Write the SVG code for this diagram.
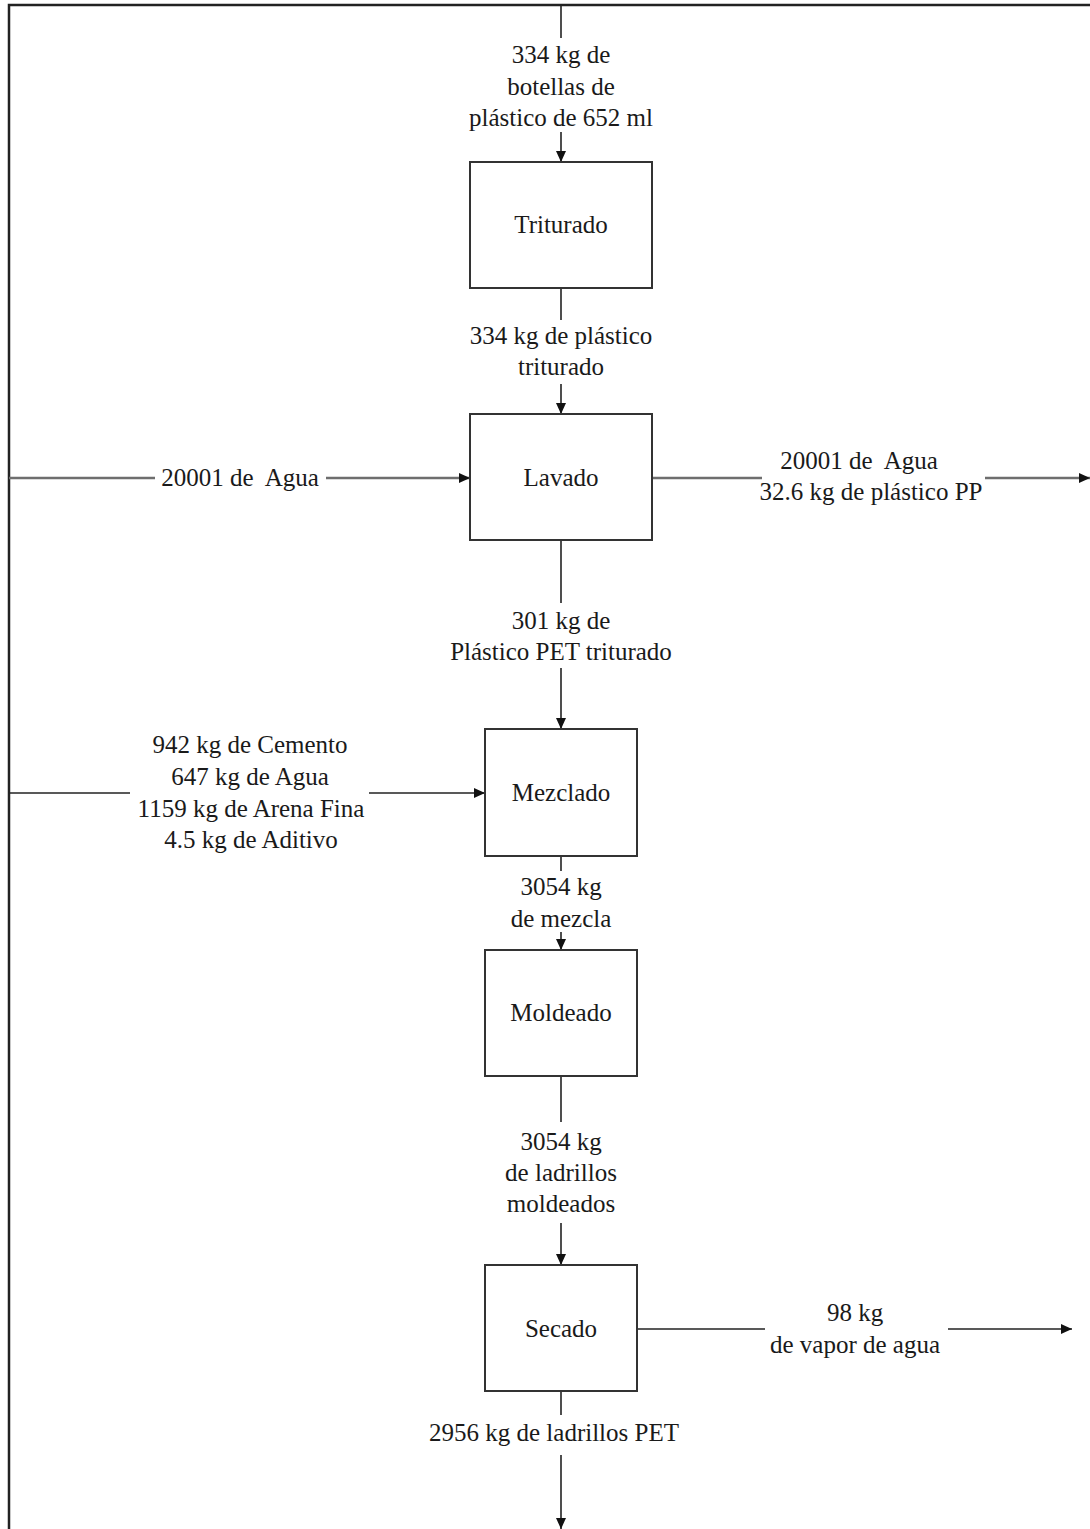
<svg xmlns="http://www.w3.org/2000/svg" width="1090" height="1529" viewBox="0 0 1090 1529">
  <style>
    .box { fill: #ffffff; stroke: #333333; stroke-width: 2; }
    .flow { fill: none; stroke: #222222; stroke-width: 1.6; }
    .flow-h { fill: none; stroke: #6e6e6e; stroke-width: 2.4; }
    .frame { fill: none; stroke: #222222; stroke-width: 2.5; }
    text { font-family: "Liberation Serif", "Times New Roman", serif; font-size: 25px; fill: #1a1a1a; text-anchor: middle; }
  </style>
  <defs>
    <marker id="arrow" markerUnits="userSpaceOnUse" markerWidth="12" markerHeight="10" refX="11" refY="5" orient="auto">
      <path d="M0,0 L11,5 L0,10 z" fill="#111111"/>
    </marker>
  </defs>

  <rect width="1090" height="1529" fill="#ffffff"/>
  <!-- page frame (open to the right and bottom) -->
  <path class="frame" d="M9,1529 V5 H1090"/>

  <g id="connectors">
    <!-- feed of bottles -->
    <path class="flow" d="M561,5 V38"/>
    <path class="flow" d="M561,132 V162" marker-end="url(#arrow)"/>
    <!-- Triturado to Lavado -->
    <path class="flow" d="M561,288 V320"/>
    <path class="flow" d="M561,384 V414" marker-end="url(#arrow)"/>
    <!-- water into Lavado -->
    <path class="flow-h" d="M9,478 H155"/>
    <path class="flow-h" d="M326,478 H470" marker-end="url(#arrow)"/>
    <!-- water and PP out of Lavado -->
    <path class="flow-h" d="M652,478 H762"/>
    <path class="flow-h" d="M985,478 H1090" marker-end="url(#arrow)"/>
    <!-- Lavado to Mezclado -->
    <path class="flow" d="M561,540 V603"/>
    <path class="flow" d="M561,668 V729" marker-end="url(#arrow)"/>
    <!-- raw materials into Mezclado -->
    <path class="flow" d="M9,793 H130"/>
    <path class="flow" d="M369,793 H485" marker-end="url(#arrow)"/>
    <!-- Mezclado to Moldeado -->
    <path class="flow" d="M561,856 V871"/>
    <path class="flow" d="M561,932 V950" marker-end="url(#arrow)"/>
    <!-- Moldeado to Secado -->
    <path class="flow" d="M561,1076 V1122"/>
    <path class="flow" d="M561,1223 V1265" marker-end="url(#arrow)"/>
    <!-- vapour out of Secado -->
    <path class="flow" d="M637,1329 H765"/>
    <path class="flow" d="M948,1329 H1072" marker-end="url(#arrow)"/>
    <!-- finished bricks -->
    <path class="flow" d="M561,1391 V1415"/>
    <path class="flow" d="M561,1455 V1529" marker-end="url(#arrow)"/>
  </g>

  <g id="labels">
    <text x="561" y="63">334 kg de</text>
    <text x="561" y="95">botellas de</text>
    <text x="561" y="126">plástico de 652 ml</text>

    <text x="561" y="344">334 kg de plástico</text>
    <text x="561" y="375">triturado</text>

    <text x="240" y="486" xml:space="preserve">20001 de  Agua</text>

    <text x="859" y="469" xml:space="preserve">20001 de  Agua</text>
    <text x="871" y="500">32.6 kg de plástico PP</text>

    <text x="561" y="629">301 kg de</text>
    <text x="561" y="660">Plástico PET triturado</text>

    <text x="250" y="753">942 kg de Cemento</text>
    <text x="250" y="785">647 kg de Agua</text>
    <text x="251" y="817">1159 kg de Arena Fina</text>
    <text x="251" y="848">4.5 kg de Aditivo</text>

    <text x="561" y="895">3054 kg</text>
    <text x="561" y="927">de mezcla</text>

    <text x="561" y="1150">3054 kg</text>
    <text x="561" y="1181">de ladrillos</text>
    <text x="561" y="1212">moldeados</text>

    <text x="855" y="1321">98 kg</text>
    <text x="855" y="1353">de vapor de agua</text>

    <text x="554" y="1441">2956 kg de ladrillos PET</text>
  </g>

  <g id="triturado">
    <rect class="box" x="470" y="162" width="182" height="126"/>
    <text x="561" y="233">Triturado</text>
  </g>
  <g id="lavado">
    <rect class="box" x="470" y="414" width="182" height="126"/>
    <text x="561" y="486">Lavado</text>
  </g>
  <g id="mezclado">
    <rect class="box" x="485" y="729" width="152" height="127"/>
    <text x="561" y="801">Mezclado</text>
  </g>
  <g id="moldeado">
    <rect class="box" x="485" y="950" width="152" height="126"/>
    <text x="561" y="1021">Moldeado</text>
  </g>
  <g id="secado">
    <rect class="box" x="485" y="1265" width="152" height="126"/>
    <text x="561" y="1337">Secado</text>
  </g>
</svg>
